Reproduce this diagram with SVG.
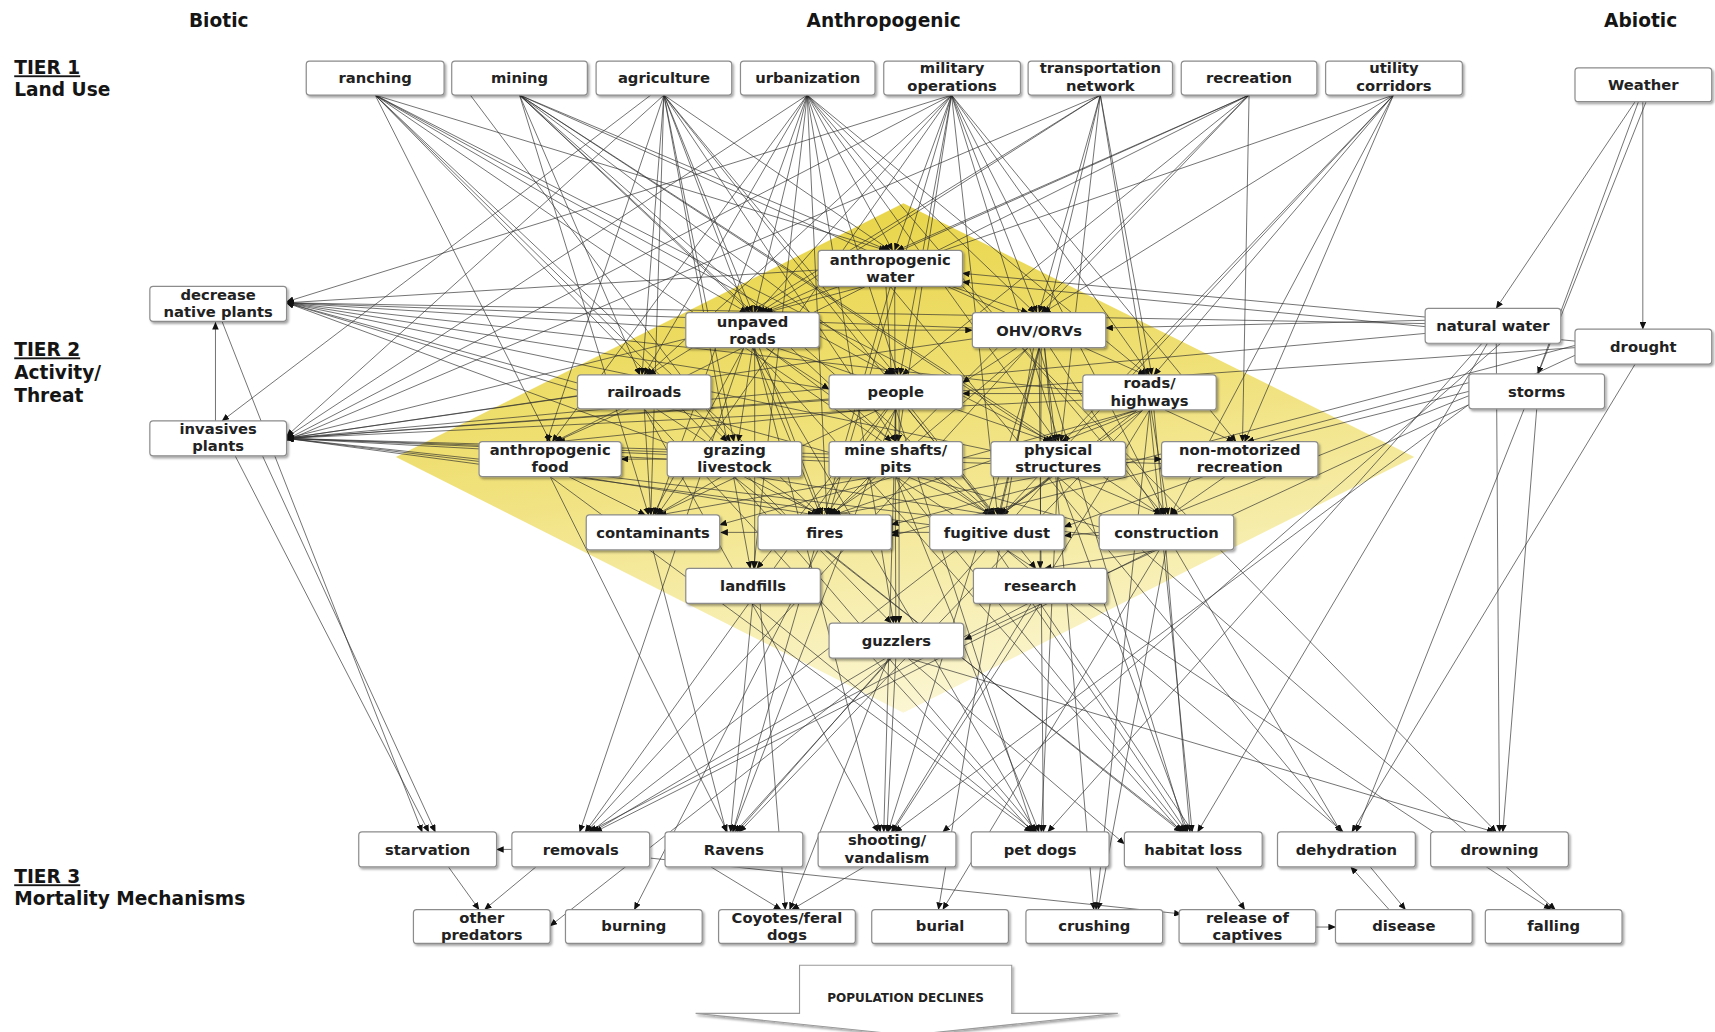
<svg xmlns="http://www.w3.org/2000/svg" width="1715" height="1032" viewBox="0 0 1715 1032">
<defs>
<style>
.n rect{fill:#fff;stroke:#8c8c8c;stroke-width:1.1;filter:url(#sh)}
.n text{font-family:"DejaVu Sans",Verdana,sans-serif;font-weight:bold;font-size:13.5px;fill:#222;text-anchor:middle}
.lbl{font-family:"DejaVu Sans",Verdana,sans-serif;font-weight:bold;font-size:17px;fill:#151515}
#connectors line{stroke:#2e2e2e;stroke-width:0.85;stroke-opacity:0.72;marker-end:url(#ah)}
</style>
<filter id="sh" x="-10%" y="-20%" width="125%" height="150%">
<feDropShadow dx="1.5" dy="1.8" stdDeviation="1.2" flood-color="#000" flood-opacity="0.35"/>
</filter>
<marker id="ah" markerUnits="userSpaceOnUse" markerWidth="7" markerHeight="6" refX="6.5" refY="3" orient="auto">
<path d="M0,0 L7,3 L0,6 z" fill="#111"/>
</marker>
<linearGradient id="dg" x1="0.3" y1="0" x2="0.6" y2="1">
<stop offset="0" stop-color="#e8d444"/>
<stop offset="0.45" stop-color="#f0e17a"/>
<stop offset="1" stop-color="#fcf7d8"/>
</linearGradient>
</defs>
<rect x="0" y="0" width="1715" height="1032" fill="#fff"/>
<g transform="scale(1.09375 1.0932)">
<polygon id="threat-zone" points="826,186 1293,418 826,652 362,418" fill="url(#dg)"/>

<g id="labels">
<text class="lbl" x="200" y="25" text-anchor="middle">Biotic</text>
<text class="lbl" x="808" y="25" text-anchor="middle">Anthropogenic</text>
<text class="lbl" x="1500" y="25" text-anchor="middle">Abiotic</text>
<text class="lbl" x="13" y="68" text-decoration="underline">TIER 1</text>
<text class="lbl" x="13" y="88">Land Use</text>
<text class="lbl" x="13" y="326" text-decoration="underline">TIER 2</text>
<text class="lbl" x="13" y="347">Activity/</text>
<text class="lbl" x="13" y="368">Threat</text>
<text class="lbl" x="13" y="808" text-decoration="underline">TIER 3</text>
<text class="lbl" x="13" y="828">Mortality Mechanisms</text>
</g>

<g id="connectors">
<line x1="343" y1="87" x2="503" y2="404"/>
<line x1="343" y1="87" x2="665" y2="404"/>
<line x1="343" y1="87" x2="683" y2="286"/>
<line x1="343" y1="87" x2="810" y2="229"/>
<line x1="343" y1="87" x2="815" y2="343"/>
<line x1="343" y1="87" x2="750" y2="471"/>
<line x1="343" y1="87" x2="962" y2="404"/>
<line x1="343" y1="87" x2="905" y2="471"/>
<line x1="343" y1="87" x2="815" y2="570"/>
<line x1="475" y1="87" x2="686" y2="286"/>
<line x1="475" y1="87" x2="585" y2="343"/>
<line x1="475" y1="87" x2="812" y2="229"/>
<line x1="475" y1="87" x2="817" y2="343"/>
<line x1="475" y1="87" x2="815" y2="404"/>
<line x1="475" y1="87" x2="964" y2="404"/>
<line x1="475" y1="87" x2="593" y2="471"/>
<line x1="475" y1="87" x2="908" y2="471"/>
<line x1="475" y1="87" x2="1062" y2="471"/>
<line x1="475" y1="87" x2="1047" y2="343"/>
<line x1="430" y1="87" x2="668" y2="404"/>
<line x1="595" y1="87" x2="203" y2="385"/>
<line x1="607" y1="87" x2="262" y2="399"/>
<line x1="607" y1="87" x2="500" y2="404"/>
<line x1="607" y1="87" x2="587" y2="343"/>
<line x1="607" y1="87" x2="595" y2="471"/>
<line x1="607" y1="87" x2="688" y2="286"/>
<line x1="607" y1="87" x2="814" y2="229"/>
<line x1="607" y1="87" x2="819" y2="343"/>
<line x1="607" y1="87" x2="671" y2="404"/>
<line x1="607" y1="87" x2="752" y2="471"/>
<line x1="607" y1="87" x2="910" y2="471"/>
<line x1="607" y1="87" x2="819" y2="404"/>
<line x1="607" y1="87" x2="686" y2="520"/>
<line x1="738" y1="87" x2="262" y2="400"/>
<line x1="738" y1="87" x2="589" y2="343"/>
<line x1="738" y1="87" x2="505" y2="404"/>
<line x1="738" y1="87" x2="690" y2="286"/>
<line x1="738" y1="87" x2="816" y2="229"/>
<line x1="738" y1="87" x2="821" y2="343"/>
<line x1="738" y1="87" x2="1049" y2="343"/>
<line x1="738" y1="87" x2="966" y2="404"/>
<line x1="738" y1="87" x2="1064" y2="471"/>
<line x1="738" y1="87" x2="689" y2="520"/>
<line x1="738" y1="87" x2="599" y2="471"/>
<line x1="738" y1="87" x2="756" y2="471"/>
<line x1="738" y1="87" x2="946" y2="286"/>
<line x1="738" y1="87" x2="817" y2="570"/>
<line x1="870" y1="87" x2="262" y2="402"/>
<line x1="870" y1="87" x2="262" y2="276"/>
<line x1="870" y1="87" x2="591" y2="343"/>
<line x1="870" y1="87" x2="692" y2="286"/>
<line x1="870" y1="87" x2="818" y2="229"/>
<line x1="870" y1="87" x2="948" y2="286"/>
<line x1="870" y1="87" x2="823" y2="343"/>
<line x1="870" y1="87" x2="1051" y2="343"/>
<line x1="870" y1="87" x2="968" y2="404"/>
<line x1="870" y1="87" x2="601" y2="471"/>
<line x1="870" y1="87" x2="758" y2="471"/>
<line x1="870" y1="87" x2="912" y2="471"/>
<line x1="870" y1="87" x2="1066" y2="471"/>
<line x1="870" y1="87" x2="821" y2="404"/>
<line x1="870" y1="87" x2="1130" y2="404"/>
<line x1="1006" y1="87" x2="262" y2="403"/>
<line x1="1006" y1="87" x2="593" y2="343"/>
<line x1="1006" y1="87" x2="694" y2="286"/>
<line x1="1006" y1="87" x2="1053" y2="343"/>
<line x1="1006" y1="87" x2="950" y2="286"/>
<line x1="1006" y1="87" x2="914" y2="471"/>
<line x1="1006" y1="87" x2="1068" y2="471"/>
<line x1="1006" y1="87" x2="970" y2="404"/>
<line x1="1142" y1="87" x2="952" y2="286"/>
<line x1="1142" y1="87" x2="1136" y2="404"/>
<line x1="1142" y1="87" x2="825" y2="343"/>
<line x1="1142" y1="87" x2="696" y2="286"/>
<line x1="1142" y1="87" x2="820" y2="229"/>
<line x1="1142" y1="87" x2="760" y2="471"/>
<line x1="1142" y1="87" x2="507" y2="404"/>
<line x1="1274" y1="87" x2="1055" y2="343"/>
<line x1="1274" y1="87" x2="698" y2="286"/>
<line x1="1274" y1="87" x2="1070" y2="471"/>
<line x1="1274" y1="87" x2="972" y2="404"/>
<line x1="1274" y1="87" x2="916" y2="471"/>
<line x1="1274" y1="87" x2="954" y2="286"/>
<line x1="1274" y1="87" x2="1138" y2="404"/>
<line x1="1495" y1="93" x2="1368" y2="282"/>
<line x1="1502" y1="93" x2="1502" y2="301"/>
<line x1="1498" y1="93" x2="1406" y2="342"/>
<line x1="1505" y1="93" x2="1240" y2="761"/>
<line x1="748" y1="247" x2="262" y2="277"/>
<line x1="627" y1="300" x2="262" y2="277"/>
<line x1="889" y1="300" x2="262" y2="277"/>
<line x1="1303" y1="296" x2="262" y2="277"/>
<line x1="758" y1="356" x2="262" y2="277"/>
<line x1="528" y1="357" x2="262" y2="277"/>
<line x1="612" y1="406" x2="262" y2="277"/>
<line x1="990" y1="358" x2="262" y2="277"/>
<line x1="906" y1="412" x2="262" y2="277"/>
<line x1="1005" y1="482" x2="262" y2="277"/>
<line x1="528" y1="362" x2="262" y2="401"/>
<line x1="627" y1="310" x2="262" y2="401"/>
<line x1="758" y1="365" x2="262" y2="401"/>
<line x1="610" y1="420" x2="262" y2="401"/>
<line x1="758" y1="422" x2="262" y2="401"/>
<line x1="906" y1="424" x2="262" y2="401"/>
<line x1="1062" y1="424" x2="262" y2="401"/>
<line x1="990" y1="366" x2="262" y2="401"/>
<line x1="889" y1="310" x2="262" y2="401"/>
<line x1="1440" y1="318" x2="262" y2="401"/>
<line x1="1303" y1="305" x2="262" y2="401"/>
<line x1="850" y1="480" x2="262" y2="401"/>
<line x1="1005" y1="490" x2="262" y2="401"/>
<line x1="438" y1="420" x2="262" y2="401"/>
<line x1="197" y1="385" x2="197" y2="295"/>
<line x1="810" y1="262" x2="815" y2="343"/>
<line x1="818" y1="262" x2="819" y2="570"/>
<line x1="790" y1="262" x2="700" y2="286"/>
<line x1="870" y1="262" x2="940" y2="286"/>
<line x1="749" y1="302" x2="889" y2="302"/>
<line x1="700" y1="318" x2="758" y2="356"/>
<line x1="688" y1="318" x2="750" y2="471"/>
<line x1="700" y1="318" x2="906" y2="471"/>
<line x1="680" y1="318" x2="597" y2="471"/>
<line x1="688" y1="318" x2="675" y2="404"/>
<line x1="710" y1="318" x2="960" y2="404"/>
<line x1="690" y1="318" x2="690" y2="520"/>
<line x1="950" y1="318" x2="913" y2="471"/>
<line x1="940" y1="318" x2="760" y2="471"/>
<line x1="930" y1="318" x2="880" y2="350"/>
<line x1="955" y1="318" x2="965" y2="404"/>
<line x1="960" y1="318" x2="1060" y2="471"/>
<line x1="952" y1="318" x2="951" y2="520"/>
<line x1="589" y1="374" x2="595" y2="471"/>
<line x1="600" y1="374" x2="748" y2="471"/>
<line x1="575" y1="374" x2="508" y2="404"/>
<line x1="819" y1="374" x2="756" y2="471"/>
<line x1="800" y1="374" x2="510" y2="404"/>
<line x1="810" y1="374" x2="692" y2="520"/>
<line x1="819" y1="374" x2="819" y2="404"/>
<line x1="830" y1="374" x2="909" y2="471"/>
<line x1="830" y1="374" x2="947" y2="520"/>
<line x1="805" y1="374" x2="600" y2="471"/>
<line x1="822" y1="374" x2="822" y2="570"/>
<line x1="1045" y1="375" x2="970" y2="404"/>
<line x1="1045" y1="375" x2="915" y2="471"/>
<line x1="1055" y1="375" x2="1064" y2="471"/>
<line x1="990" y1="360" x2="880" y2="360"/>
<line x1="1040" y1="375" x2="658" y2="480"/>
<line x1="1040" y1="375" x2="762" y2="471"/>
<line x1="1065" y1="375" x2="1128" y2="404"/>
<line x1="610" y1="420" x2="568" y2="420"/>
<line x1="680" y1="436" x2="750" y2="471"/>
<line x1="690" y1="436" x2="907" y2="471"/>
<line x1="660" y1="436" x2="600" y2="471"/>
<line x1="830" y1="436" x2="908" y2="471"/>
<line x1="800" y1="436" x2="603" y2="471"/>
<line x1="810" y1="436" x2="758" y2="471"/>
<line x1="960" y1="436" x2="914" y2="471"/>
<line x1="980" y1="436" x2="1062" y2="471"/>
<line x1="1029" y1="420" x2="1062" y2="420"/>
<line x1="950" y1="436" x2="762" y2="471"/>
<line x1="1100" y1="436" x2="973" y2="482"/>
<line x1="1120" y1="436" x2="1070" y2="471"/>
<line x1="1005" y1="487" x2="973" y2="490"/>
<line x1="850" y1="487" x2="815" y2="487"/>
<line x1="693" y1="487" x2="659" y2="487"/>
<line x1="520" y1="436" x2="590" y2="471"/>
<line x1="530" y1="436" x2="745" y2="471"/>
<line x1="1060" y1="503" x2="955" y2="520"/>
<line x1="1303" y1="290" x2="880" y2="250"/>
<line x1="1303" y1="293" x2="1011" y2="300"/>
<line x1="1440" y1="316" x2="815" y2="480"/>
<line x1="1440" y1="312" x2="880" y2="258"/>
<line x1="1343" y1="358" x2="815" y2="490"/>
<line x1="1343" y1="362" x2="1070" y2="471"/>
<line x1="1343" y1="350" x2="1140" y2="404"/>
<line x1="1440" y1="325" x2="882" y2="585"/>
<line x1="203" y1="294" x2="386" y2="761"/>
<line x1="215" y1="417" x2="392" y2="761"/>
<line x1="240" y1="417" x2="398" y2="761"/>
<line x1="812" y1="374" x2="535" y2="761"/>
<line x1="940" y1="552" x2="538" y2="761"/>
<line x1="680" y1="318" x2="530" y2="761"/>
<line x1="1040" y1="375" x2="540" y2="761"/>
<line x1="810" y1="602" x2="542" y2="761"/>
<line x1="940" y1="318" x2="536" y2="761"/>
<line x1="1055" y1="503" x2="544" y2="761"/>
<line x1="503" y1="436" x2="665" y2="761"/>
<line x1="688" y1="552" x2="668" y2="761"/>
<line x1="815" y1="602" x2="672" y2="761"/>
<line x1="814" y1="262" x2="670" y2="761"/>
<line x1="960" y1="436" x2="674" y2="761"/>
<line x1="1045" y1="375" x2="676" y2="761"/>
<line x1="819" y1="374" x2="670" y2="761"/>
<line x1="597" y1="503" x2="664" y2="761"/>
<line x1="819" y1="374" x2="808" y2="761"/>
<line x1="690" y1="318" x2="805" y2="761"/>
<line x1="950" y1="318" x2="812" y2="761"/>
<line x1="819" y1="602" x2="811" y2="761"/>
<line x1="1051" y1="375" x2="815" y2="761"/>
<line x1="951" y1="552" x2="816" y2="761"/>
<line x1="589" y1="374" x2="803" y2="761"/>
<line x1="1343" y1="370" x2="818" y2="761"/>
<line x1="1372" y1="314" x2="862" y2="761"/>
<line x1="819" y1="374" x2="945" y2="761"/>
<line x1="688" y1="318" x2="947" y2="761"/>
<line x1="503" y1="436" x2="943" y2="761"/>
<line x1="688" y1="552" x2="946" y2="761"/>
<line x1="819" y1="436" x2="950" y2="761"/>
<line x1="967" y1="436" x2="952" y2="761"/>
<line x1="950" y1="318" x2="954" y2="761"/>
<line x1="589" y1="374" x2="944" y2="761"/>
<line x1="671" y1="436" x2="948" y2="761"/>
<line x1="1355" y1="314" x2="958" y2="761"/>
<line x1="1066" y1="503" x2="1088" y2="761"/>
<line x1="950" y1="318" x2="1084" y2="761"/>
<line x1="688" y1="318" x2="1080" y2="761"/>
<line x1="1051" y1="375" x2="1090" y2="761"/>
<line x1="967" y1="436" x2="1086" y2="761"/>
<line x1="754" y1="503" x2="1082" y2="761"/>
<line x1="671" y1="436" x2="1080" y2="761"/>
<line x1="819" y1="436" x2="1083" y2="761"/>
<line x1="1360" y1="314" x2="1095" y2="761"/>
<line x1="911" y1="503" x2="1085" y2="761"/>
<line x1="830" y1="602" x2="1028" y2="772"/>
<line x1="1495" y1="333" x2="1236" y2="761"/>
<line x1="1075" y1="503" x2="1226" y2="761"/>
<line x1="920" y1="503" x2="1228" y2="761"/>
<line x1="1405" y1="374" x2="1374" y2="761"/>
<line x1="830" y1="602" x2="1366" y2="761"/>
<line x1="880" y1="262" x2="1368" y2="761"/>
<line x1="1368" y1="314" x2="1371" y2="761"/>
<line x1="410" y1="793" x2="438" y2="832"/>
<line x1="490" y1="793" x2="443" y2="832"/>
<line x1="815" y1="602" x2="503" y2="847"/>
<line x1="748" y1="503" x2="580" y2="832"/>
<line x1="650" y1="793" x2="714" y2="832"/>
<line x1="695" y1="552" x2="718" y2="832"/>
<line x1="812" y1="602" x2="722" y2="832"/>
<line x1="790" y1="793" x2="724" y2="832"/>
<line x1="1060" y1="503" x2="862" y2="832"/>
<line x1="945" y1="318" x2="858" y2="832"/>
<line x1="955" y1="318" x2="1000" y2="832"/>
<line x1="1051" y1="375" x2="1002" y2="832"/>
<line x1="1066" y1="503" x2="1004" y2="832"/>
<line x1="951" y1="552" x2="1138" y2="832"/>
<line x1="595" y1="785" x2="1080" y2="836"/>
<line x1="1203" y1="848" x2="1221" y2="848"/>
<line x1="814" y1="262" x2="1285" y2="832"/>
<line x1="1270" y1="832" x2="1235" y2="793"/>
<line x1="819" y1="436" x2="1418" y2="832"/>
<line x1="967" y1="436" x2="1422" y2="832"/>
<line x1="468" y1="777" x2="454" y2="777"/>
</g>

<g id="n-ranching" class="n"><rect x="280" y="56" width="126" height="31" rx="3"/><text x="343" y="76">ranching</text></g>
<g id="n-mining" class="n"><rect x="413" y="56" width="124" height="31" rx="3"/><text x="475" y="76">mining</text></g>
<g id="n-agriculture" class="n"><rect x="545" y="56" width="124" height="31" rx="3"/><text x="607" y="76">agriculture</text></g>
<g id="n-urbanization" class="n"><rect x="677" y="56" width="123" height="31" rx="3"/><text x="738.5" y="76">urbanization</text></g>
<g id="n-military" class="n"><rect x="808" y="56" width="125" height="31" rx="3"/><text><tspan x="870.5" y="67">military</tspan><tspan x="870.5" y="83">operations</tspan></text></g>
<g id="n-transportation" class="n"><rect x="940" y="56" width="132" height="31" rx="3"/><text><tspan x="1006" y="67">transportation</tspan><tspan x="1006" y="83">network</tspan></text></g>
<g id="n-recreation" class="n"><rect x="1080" y="56" width="124" height="31" rx="3"/><text x="1142" y="76">recreation</text></g>
<g id="n-utility" class="n"><rect x="1212" y="56" width="125" height="31" rx="3"/><text><tspan x="1274.5" y="67">utility</tspan><tspan x="1274.5" y="83">corridors</tspan></text></g>
<g id="n-weather" class="n"><rect x="1440" y="62" width="125" height="31" rx="3"/><text x="1502.5" y="82">Weather</text></g>

<g id="n-decrease-native" class="n"><rect x="137" y="262" width="125" height="32" rx="3"/><text><tspan x="199.5" y="274">decrease</tspan><tspan x="199.5" y="290">native plants</tspan></text></g>
<g id="n-invasives" class="n"><rect x="137" y="385" width="125" height="32" rx="3"/><text><tspan x="199.5" y="397">invasives</tspan><tspan x="199.5" y="413">plants</tspan></text></g>
<g id="n-anthro-water" class="n"><rect x="748" y="229" width="132" height="33" rx="3"/><text><tspan x="814" y="242">anthropogenic</tspan><tspan x="814" y="258">water</tspan></text></g>
<g id="n-unpaved" class="n"><rect x="627" y="286" width="122" height="32" rx="3"/><text><tspan x="688" y="299">unpaved</tspan><tspan x="688" y="315">roads</tspan></text></g>
<g id="n-ohv" class="n"><rect x="889" y="286" width="122" height="32" rx="3"/><text x="950" y="307">OHV/ORVs</text></g>
<g id="n-railroads" class="n"><rect x="528" y="343" width="122" height="31" rx="3"/><text x="589" y="363">railroads</text></g>
<g id="n-people" class="n"><rect x="758" y="343" width="122" height="31" rx="3"/><text x="819" y="363">people</text></g>
<g id="n-roads" class="n"><rect x="990" y="343" width="122" height="32" rx="3"/><text><tspan x="1051" y="355">roads/</tspan><tspan x="1051" y="371">highways</tspan></text></g>
<g id="n-anthro-food" class="n"><rect x="438" y="404" width="130" height="32" rx="3"/><text><tspan x="503" y="416">anthropogenic</tspan><tspan x="503" y="432">food</tspan></text></g>
<g id="n-grazing" class="n"><rect x="610" y="404" width="123" height="32" rx="3"/><text><tspan x="671.5" y="416">grazing</tspan><tspan x="671.5" y="432">livestock</tspan></text></g>
<g id="n-mine-shafts" class="n"><rect x="758" y="404" width="122" height="32" rx="3"/><text><tspan x="819" y="416">mine shafts/</tspan><tspan x="819" y="432">pits</tspan></text></g>
<g id="n-physical" class="n"><rect x="906" y="404" width="123" height="32" rx="3"/><text><tspan x="967.5" y="416">physical</tspan><tspan x="967.5" y="432">structures</tspan></text></g>
<g id="n-nonmotorized" class="n"><rect x="1062" y="404" width="143" height="32" rx="3"/><text><tspan x="1133.5" y="416">non-motorized</tspan><tspan x="1133.5" y="432">recreation</tspan></text></g>
<g id="n-contaminants" class="n"><rect x="536" y="471" width="122" height="32" rx="3"/><text x="597" y="492">contaminants</text></g>
<g id="n-fires" class="n"><rect x="693" y="471" width="122" height="32" rx="3"/><text x="754" y="492">fires</text></g>
<g id="n-fugitive-dust" class="n"><rect x="850" y="471" width="123" height="32" rx="3"/><text x="911.5" y="492">fugitive dust</text></g>
<g id="n-construction" class="n"><rect x="1005" y="471" width="123" height="32" rx="3"/><text x="1066.5" y="492">construction</text></g>
<g id="n-landfills" class="n"><rect x="627" y="520" width="123" height="32" rx="3"/><text x="688.5" y="541">landfills</text></g>
<g id="n-research" class="n"><rect x="890" y="520" width="122" height="32" rx="3"/><text x="951" y="541">research</text></g>
<g id="n-guzzlers" class="n"><rect x="758" y="570" width="123" height="32" rx="3"/><text x="819.5" y="591">guzzlers</text></g>
<g id="n-natural-water" class="n"><rect x="1303" y="282" width="124" height="32" rx="3"/><text x="1365" y="303">natural water</text></g>
<g id="n-drought" class="n"><rect x="1440" y="301" width="125" height="32" rx="3"/><text x="1502.5" y="322">drought</text></g>
<g id="n-storms" class="n"><rect x="1343" y="342" width="124" height="32" rx="3"/><text x="1405" y="363">storms</text></g>

<g id="n-starvation" class="n"><rect x="328" y="761" width="126" height="32" rx="3"/><text x="391" y="782">starvation</text></g>
<g id="n-removals" class="n"><rect x="468" y="761" width="126" height="32" rx="3"/><text x="531" y="782">removals</text></g>
<g id="n-ravens" class="n"><rect x="608" y="761" width="126" height="32" rx="3"/><text x="671" y="782">Ravens</text></g>
<g id="n-shooting" class="n"><rect x="748" y="761" width="126" height="32" rx="3"/><text><tspan x="811" y="773">shooting/</tspan><tspan x="811" y="789">vandalism</tspan></text></g>
<g id="n-pet-dogs" class="n"><rect x="888" y="761" width="126" height="32" rx="3"/><text x="951" y="782">pet dogs</text></g>
<g id="n-habitat-loss" class="n"><rect x="1028" y="761" width="126" height="32" rx="3"/><text x="1091" y="782">habitat loss</text></g>
<g id="n-dehydration" class="n"><rect x="1168" y="761" width="126" height="32" rx="3"/><text x="1231" y="782">dehydration</text></g>
<g id="n-drowning" class="n"><rect x="1308" y="761" width="126" height="32" rx="3"/><text x="1371" y="782">drowning</text></g>
<g id="n-other-predators" class="n"><rect x="378" y="832" width="125" height="31" rx="3"/><text><tspan x="440.5" y="844">other</tspan><tspan x="440.5" y="860">predators</tspan></text></g>
<g id="n-burning" class="n"><rect x="517" y="832" width="125" height="31" rx="3"/><text x="579.5" y="852">burning</text></g>
<g id="n-coyotes" class="n"><rect x="657" y="832" width="125" height="31" rx="3"/><text><tspan x="719.5" y="844">Coyotes/feral</tspan><tspan x="719.5" y="860">dogs</tspan></text></g>
<g id="n-burial" class="n"><rect x="797" y="832" width="125" height="31" rx="3"/><text x="859.5" y="852">burial</text></g>
<g id="n-crushing" class="n"><rect x="938" y="832" width="125" height="31" rx="3"/><text x="1000.5" y="852">crushing</text></g>
<g id="n-release" class="n"><rect x="1078" y="832" width="125" height="31" rx="3"/><text><tspan x="1140.5" y="844">release of</tspan><tspan x="1140.5" y="860">captives</tspan></text></g>
<g id="n-disease" class="n"><rect x="1221" y="832" width="125" height="31" rx="3"/><text x="1283.5" y="852">disease</text></g>
<g id="n-falling" class="n"><rect x="1358" y="832" width="125" height="31" rx="3"/><text x="1420.5" y="852">falling</text></g>

<g id="n-population-declines">
<path d="M731,883 L925,883 L925,927 L1022,927 L830,947 L636,927 L731,927 Z" fill="#fff" stroke="#9a9a9a" stroke-width="1" filter="url(#sh)"/>
<text x="828" y="917" font-family="DejaVu Sans, Verdana, sans-serif" font-weight="bold" font-size="11" fill="#222" text-anchor="middle">POPULATION DECLINES</text>
</g>
</g>
</svg>
